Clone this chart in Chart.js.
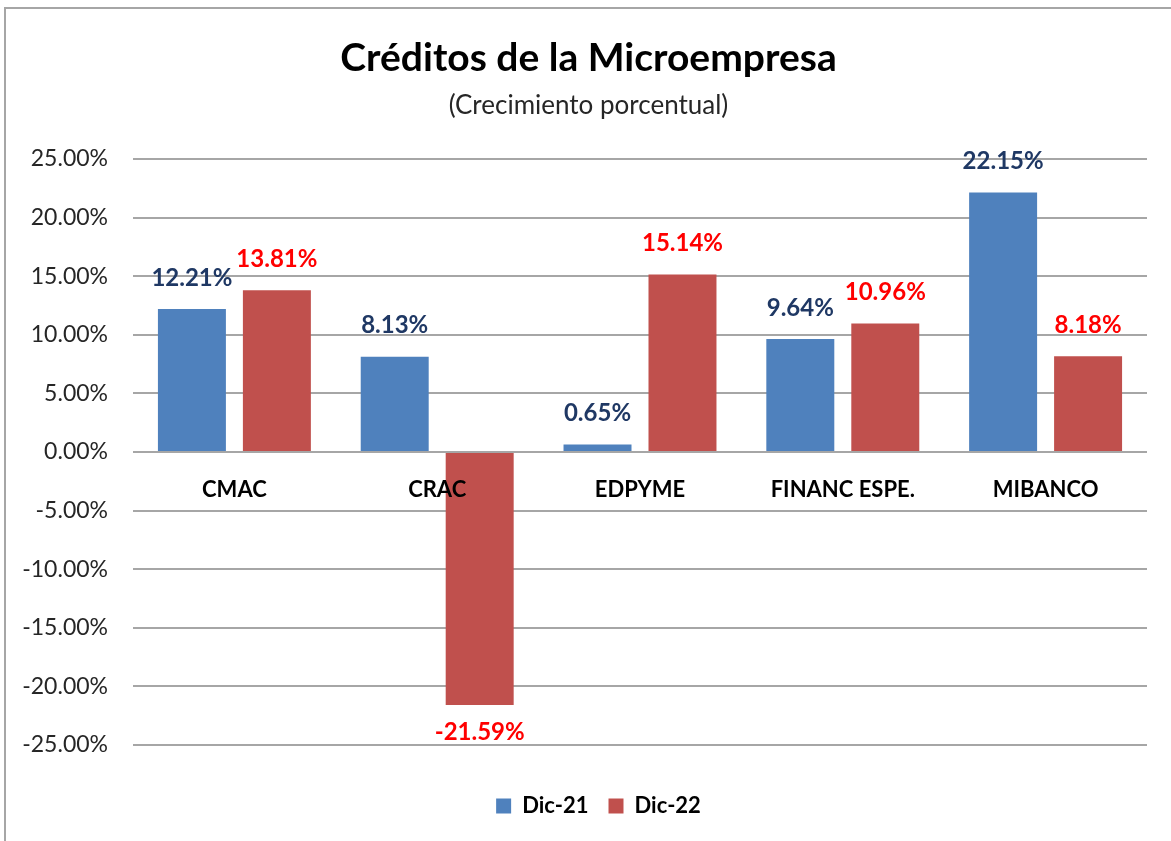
<!DOCTYPE html>
<html>
<head>
<meta charset="utf-8">
<script src="https://cdn.jsdelivr.net/npm/chart.js@4/dist/chart.umd.min.js"></script>
<style>
  html, body { margin: 0; padding: 0; background: #fff; overflow: hidden; }
  #wrap { position: absolute; left: 0; top: 0; width: 1171px; height: 841px; }
  #frame { position: absolute; left: 4px; top: 7px; width: 1200px; height: 900px;
           border: 2px solid #a6a6a6; pointer-events: none; }
</style>
</head>
<body>
<div id="wrap"><canvas id="barChart" width="1171" height="841"></canvas></div>
<div id="frame"></div>
<script>
// ---- data ----
const categories = ['CMAC', 'CRAC', 'EDPYME', 'FINANC ESPE.', 'MIBANCO'];
const seriesNames = ['Dic-21', 'Dic-22'];
const dic21 = [12.21, 8.13, 0.65, 9.64, 22.15];
const dic22 = [13.81, -21.59, 15.14, 10.96, 8.18];
const yTicks = [-25, -20, -15, -10, -5, 0, 5, 10, 15, 20, 25];

const barColors = ['#4f81bd', '#c0504d'];
const labelColors = ['#1f3864', '#ff0000'];
const FONT = 'Lato';

// value labels above / below each bar
const barLabels = {
  id: 'barLabels',
  beforeDraw(chart) {
    // title, subtitle and legend sit a bit right of centre in the original
    chart.boxes.forEach(b => {
      if (b.axis || b._shifted) return;
      const d = b.position === 'bottom' ? 25 : b.position === 'top' ? 15 : 0;
      b.left += d;
      b.right += d;
      b._shifted = true;
    });
  },
  afterDatasetsDraw(chart) {
    const ctx = chart.ctx;
    chart.data.datasets.forEach((ds, i) => {
      const meta = chart.getDatasetMeta(i);
      ctx.save();
      ctx.font = 'bold 24px ' + FONT;
      ctx.fillStyle = labelColors[i];
      ctx.textAlign = 'center';
      ctx.textBaseline = 'middle';
      meta.data.forEach((bar, j) => {
        const v = ds.data[j];
        const y = v >= 0 ? bar.y - 31 : bar.y + 27;
        ctx.fillText(v.toFixed(2) + '%', bar.x, y);
      });
      ctx.restore();
    });
  }
};

Chart.defaults.font.family = FONT;
Chart.defaults.color = '#262626';

new Chart(document.getElementById('barChart'), {
  type: 'bar',
  data: {
    labels: categories,
    datasets: [
      { label: seriesNames[0], data: dic21, backgroundColor: barColors[0] },
      { label: seriesNames[1], data: dic22, backgroundColor: barColors[1] }
    ]
  },
  options: {
    responsive: false,
    animation: false,
    datasets: { bar: { categoryPercentage: 0.838, barPercentage: 0.8 } },
    layout: { padding: { left: 0, right: 24, top: 0, bottom: 14 } },
    plugins: {
      title: {
        display: true,
        text: 'Créditos de la Microempresa',
        color: '#000',
        font: { size: 39, weight: 'bold' },
        padding: { top: 34.6, bottom: 0 }
      },
      subtitle: {
        display: true,
        text: '(Crecimiento porcentual)',
        color: '#262626',
        font: { size: 26 },
        padding: { top: 9, bottom: 37.4 }
      },
      legend: {
        position: 'bottom',
        title: { display: true, text: '', font: { size: 10 }, padding: { top: 0, bottom: 18 } },
        labels: {
          boxWidth: 15, boxHeight: 15, padding: 20,
          color: '#000',
          font: { size: 22, weight: 'bold' }
        }
      },
      tooltip: { enabled: false }
    },
    scales: {
      x: {
        position: { y: 0 },
        grid: { display: false, drawTicks: false },
        border: { display: false },
        ticks: { z: 1, padding: 25, color: '#000', font: { size: 22, weight: 'bold' } }
      },
      y: {
        min: -25, max: 25,
        afterBuildTicks: s => { s.ticks = yTicks.map(v => ({ value: v })); },
        afterFit: s => { s.width = 133; },
        grid: { color: '#a6a6a6', lineWidth: 2, drawTicks: false },
        border: { display: false },
        ticks: { padding: 25, font: { size: 23 }, callback: v => v.toFixed(2) + '%' }
      }
    }
  },
  plugins: [barLabels]
});
</script>
</body>
</html>
